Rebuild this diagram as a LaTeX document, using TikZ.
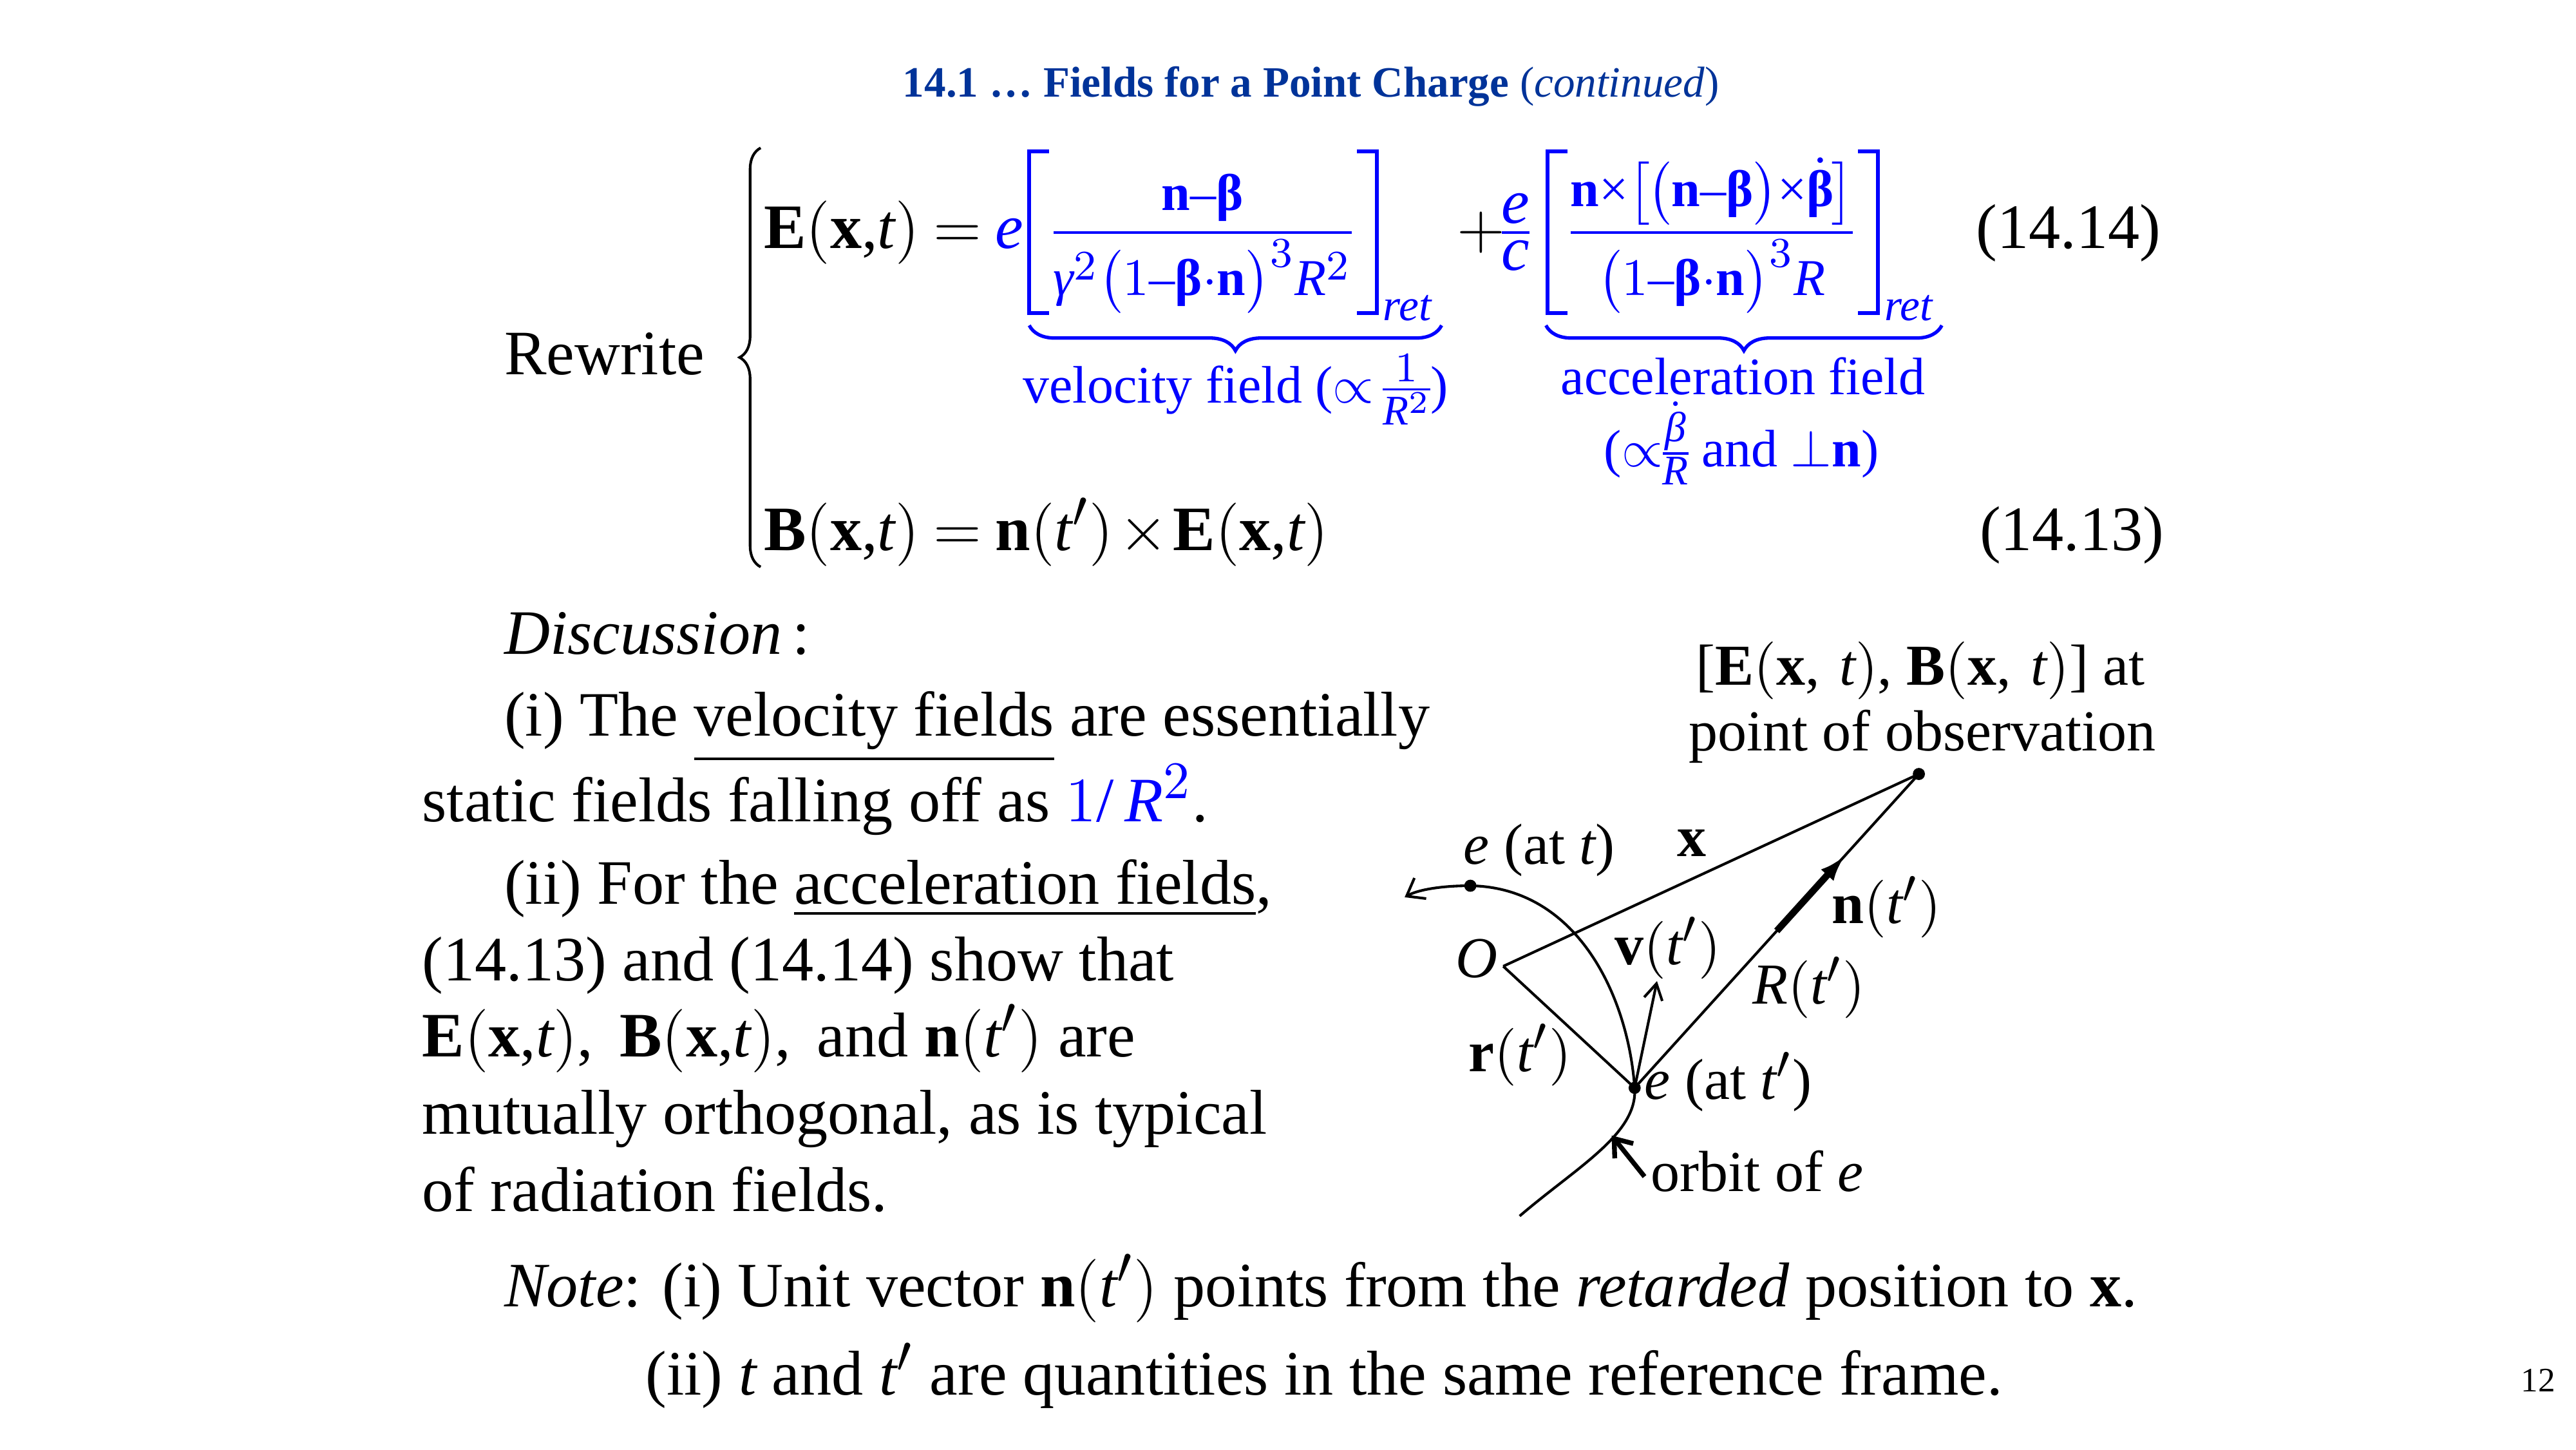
\documentclass[tikz,border=0pt]{standalone}
\usepackage{amsmath}
\usepackage{fontspec}
\setmainfont{Liberation Serif}
\usepackage[italic]{mathastext}
\usetikzlibrary{positioning, calc, arrows.meta, decorations.pathreplacing}
\DeclareMathSizes{9.8}{9.8}{7.8}{6}
\definecolor{eqblue}{RGB}{0,0,255}
\definecolor{titleblue}{RGB}{0,51,153}
\newcommand{\bfbeta}{\textbf{\upshape β}}
\newcommand{\itbeta}{\textit{β}}
\newcommand{\itgamma}{\textit{γ}}
\newcommand{\xt}{(\mathbf{x},\!t)}
\newcommand{\tms}{\mathbin{\text{×}}}
\setlength{\nulldelimiterspace}{0pt}
\tikzset{>=latex}

\begin{document}
\begin{tikzpicture}[x=0.3117pt,y=-0.3117pt,
    every node/.style={inner sep=0pt,outer sep=0pt,
        execute at begin node={\thickmuskip=4mu\medmuskip=1.5mu}},
    txt/.style={anchor=base west,font=\fontsize{12}{14}\selectfont},
    lbl/.style={anchor=base west,font=\fontsize{11}{13}\selectfont},
    frc/.style={anchor=base,font=\fontsize{9.8}{11.8}\selectfont,text=eqblue,
        execute at begin node={\medmuskip=0mu}},
    retl/.style={anchor=base west,font=\fontsize{8.5}{10}\selectfont\itshape,text=eqblue},
    brlbl/.style={anchor=base,font=\fontsize{10}{12}\selectfont,text=eqblue},
    eqbracket/.style={eqblue,line width=0.75pt},
    fieldbrace/.style={eqblue,line width=0.65pt,decorate,decoration={brace,amplitude=4.8pt,mirror}},
    ln/.style={line width=0.5pt},
    dot/.style={circle,fill,inner sep=0pt,minimum size=2.3pt}]
    \useasboundingbox (0,0) rectangle (1568,882);
    \fill[white] (0,0) rectangle (1568,882);

    \node[anchor=base,font=\fontsize{8.2}{10}\selectfont\bfseries,text=titleblue] (title) at (798,59)
        {14.1 … Fields for a Point Charge {\mdseries(\textit{continued})}};

    % equations
    \node[txt] (rewrite) at (307,228) {Rewrite};
    \draw[line width=0.5pt,decorate,decoration={brace,amplitude=4pt}] (463,345) -- (463,90);
    \node[txt] (Elhs) at (465,151) {$\mathbf{E}\xt={\color{eqblue}e}$};
    \node[frc] (vfrac) at (732,149.5)
        {$\displaystyle\frac{\mathbf{n}-\bfbeta}{\rule{0pt}{10pt}\itgamma^{2}\bigl(1-\bfbeta\cdot\mathbf{n}\bigr)^{3}R^{2}}$};
    \draw[eqbracket] (638.5,92) -- (626.5,92) -- (626.5,190.5) -- (638.5,190.5);
    \draw[eqbracket] (826,92) -- (838,92) -- (838,190.5) -- (826,190.5);
    \node[retl] (ret1) at (842,195) {ret};
    \node[txt] (plus) at (887,151) {$+$};
    \node[txt,text=eqblue] (ec) at (914,151) {$\frac{\displaystyle e}{\displaystyle c}$};
    \node[frc] (afrac) at (1042,149.5)
        {$\displaystyle\frac{\mathbf{n}\tms\bigl[\mkern-1mu\bigl(\mathbf{n}-\bfbeta\bigr)\tms\dot{\bfbeta}\mkern-1mu\bigr]}{\rule{0pt}{10pt}\bigl(1-\bfbeta\cdot\mathbf{n}\bigr)^{3}R}$};
    \draw[eqbracket] (954,92) -- (942,92) -- (942,190.5) -- (954,190.5);
    \draw[eqbracket] (1131,92) -- (1143,92) -- (1143,190.5) -- (1131,190.5);
    \node[retl] (ret2) at (1147,195) {ret};
    \node[txt] (eqE) at (1203,151) {(14.14)};
    \draw[fieldbrace] (626.5,198) -- (877.5,198);
    \draw[fieldbrace] (941,198) -- (1182,198);
    \node[brlbl] (vlab) at (752,245) {velocity field (${\propto}\,\frac{1}{R^{2}}$)};
    \node[brlbl] (alab) at (1061,240) {acceleration field};
    \node[brlbl] (alab2) at (1060,284) {(${\propto}\frac{\dot{\itbeta}}{R}$ and ${\perp}\mathbf{n}$)};
    \node[txt] (Beq) at (465,335) {$\mathbf{B}\xt=\mathbf{n}(t')\times\mathbf{E}\xt$};
    \node[txt] (eqB) at (1205,335) {(14.13)};

    % discussion
    \node[txt] (disc) at (307,398) {\textit{Discussion}\,:};
    \node[txt] (l1) at (307,448) {(i) The \underline{velocity fields} are essentially};
    \node[txt] (l2) at (257,500) {static fields falling off as {\color{eqblue}$1/\,R^{2}$}.};
    \node[txt] (l3) at (307,550) {(ii) For the \underline{acceleration fields},};
    \node[txt] (l4) at (257,597) {(14.13) and (14.14) show that};
    \node[txt] (l5) at (257,643) {$\mathbf{E}\xt$,\, $\mathbf{B}\xt$,\, and $\mathbf{n}(t')$ are};
    \node[txt] (l6) at (257,690) {mutually orthogonal, as is typical};
    \node[txt] (l7) at (257,737) {of radiation fields.};
    \node[txt] (note1) at (307,795) {\textit{Note}: (i) Unit vector $\mathbf{n}(t')$ points from the \textit{retarded} position to $\mathbf{x}$.};
    \node[txt] (note2) at (393,849) {(ii) $t$ and $t'$ are quantities in the same reference frame.};
    \node[anchor=base,font=\fontsize{6.5}{8}\selectfont] (page) at (1545,847) {12};

    % diagram
    \coordinate (O) at (915,588);
    \node[dot] (obs) at (1168,471) {};
    \node[dot] (ep) at (995,662) {};
    \node[dot] (et) at (895,539) {};
    \coordinate (orbA) at (925,740);
    \coordinate (orbB) at (855,546);
    \coordinate (vtip) at (1008.6,597);
    \coordinate (otail) at (1001,716);
    \coordinate (otip) at (981,691);
    \draw[ln] (O) -- (obs.center) -- (ep.center) -- (O);
    \draw[ln,-{Straight Barb[length=3pt,width=4.5pt]}] (orbA) .. controls (960,710) and (997,690) .. (ep.center)
        .. controls (991,606) and (960,540) .. (et.center) .. controls (875,539) and (862,542) .. (orbB);
    \draw[ln,-{Straight Barb[length=3pt,width=3.5pt]}] (ep.center) -- (vtip);
    \draw[line width=1.3pt,-{Latex[length=5pt,width=3.2pt]}] ($(ep)!0.5!(obs)$) -- ($(ep)!0.74!(obs)$);
    \draw[line width=0.9pt,-{Straight Barb[length=3pt,width=4.5pt]}] (otail) -- (otip);

    \node[lbl,anchor=base] (obsl) at (1169,417) {[$\mathbf{E}(\mathbf{x},\,t)$, $\mathbf{B}(\mathbf{x},\,t)$] at};
    \node[lbl,anchor=base] (obsl2) at (1170,457) {point of observation};
    \node[lbl] (etl) at (891,526) {$e$ (at $t$)};
    \node[lbl] (xl) at (1021,521) {$\mathbf{x}$};
    \node[lbl] (Ol) at (886,595) {$O$};
    \node[lbl] (vl) at (983,587) {$\mathbf{v}(t')$};
    \node[lbl] (nl) at (1115,562) {$\mathbf{n}(t')$};
    \node[lbl] (Rl) at (1067,611) {$R(t')$};
    \node[lbl] (rl) at (894,652) {$\mathbf{r}(t')$};
    \node[lbl] (epl) at (1001,669) {$e$ (at $t'$)};
    \node[lbl] (orbl) at (1005,725) {orbit of $e$};
\end{tikzpicture}
\end{document}
